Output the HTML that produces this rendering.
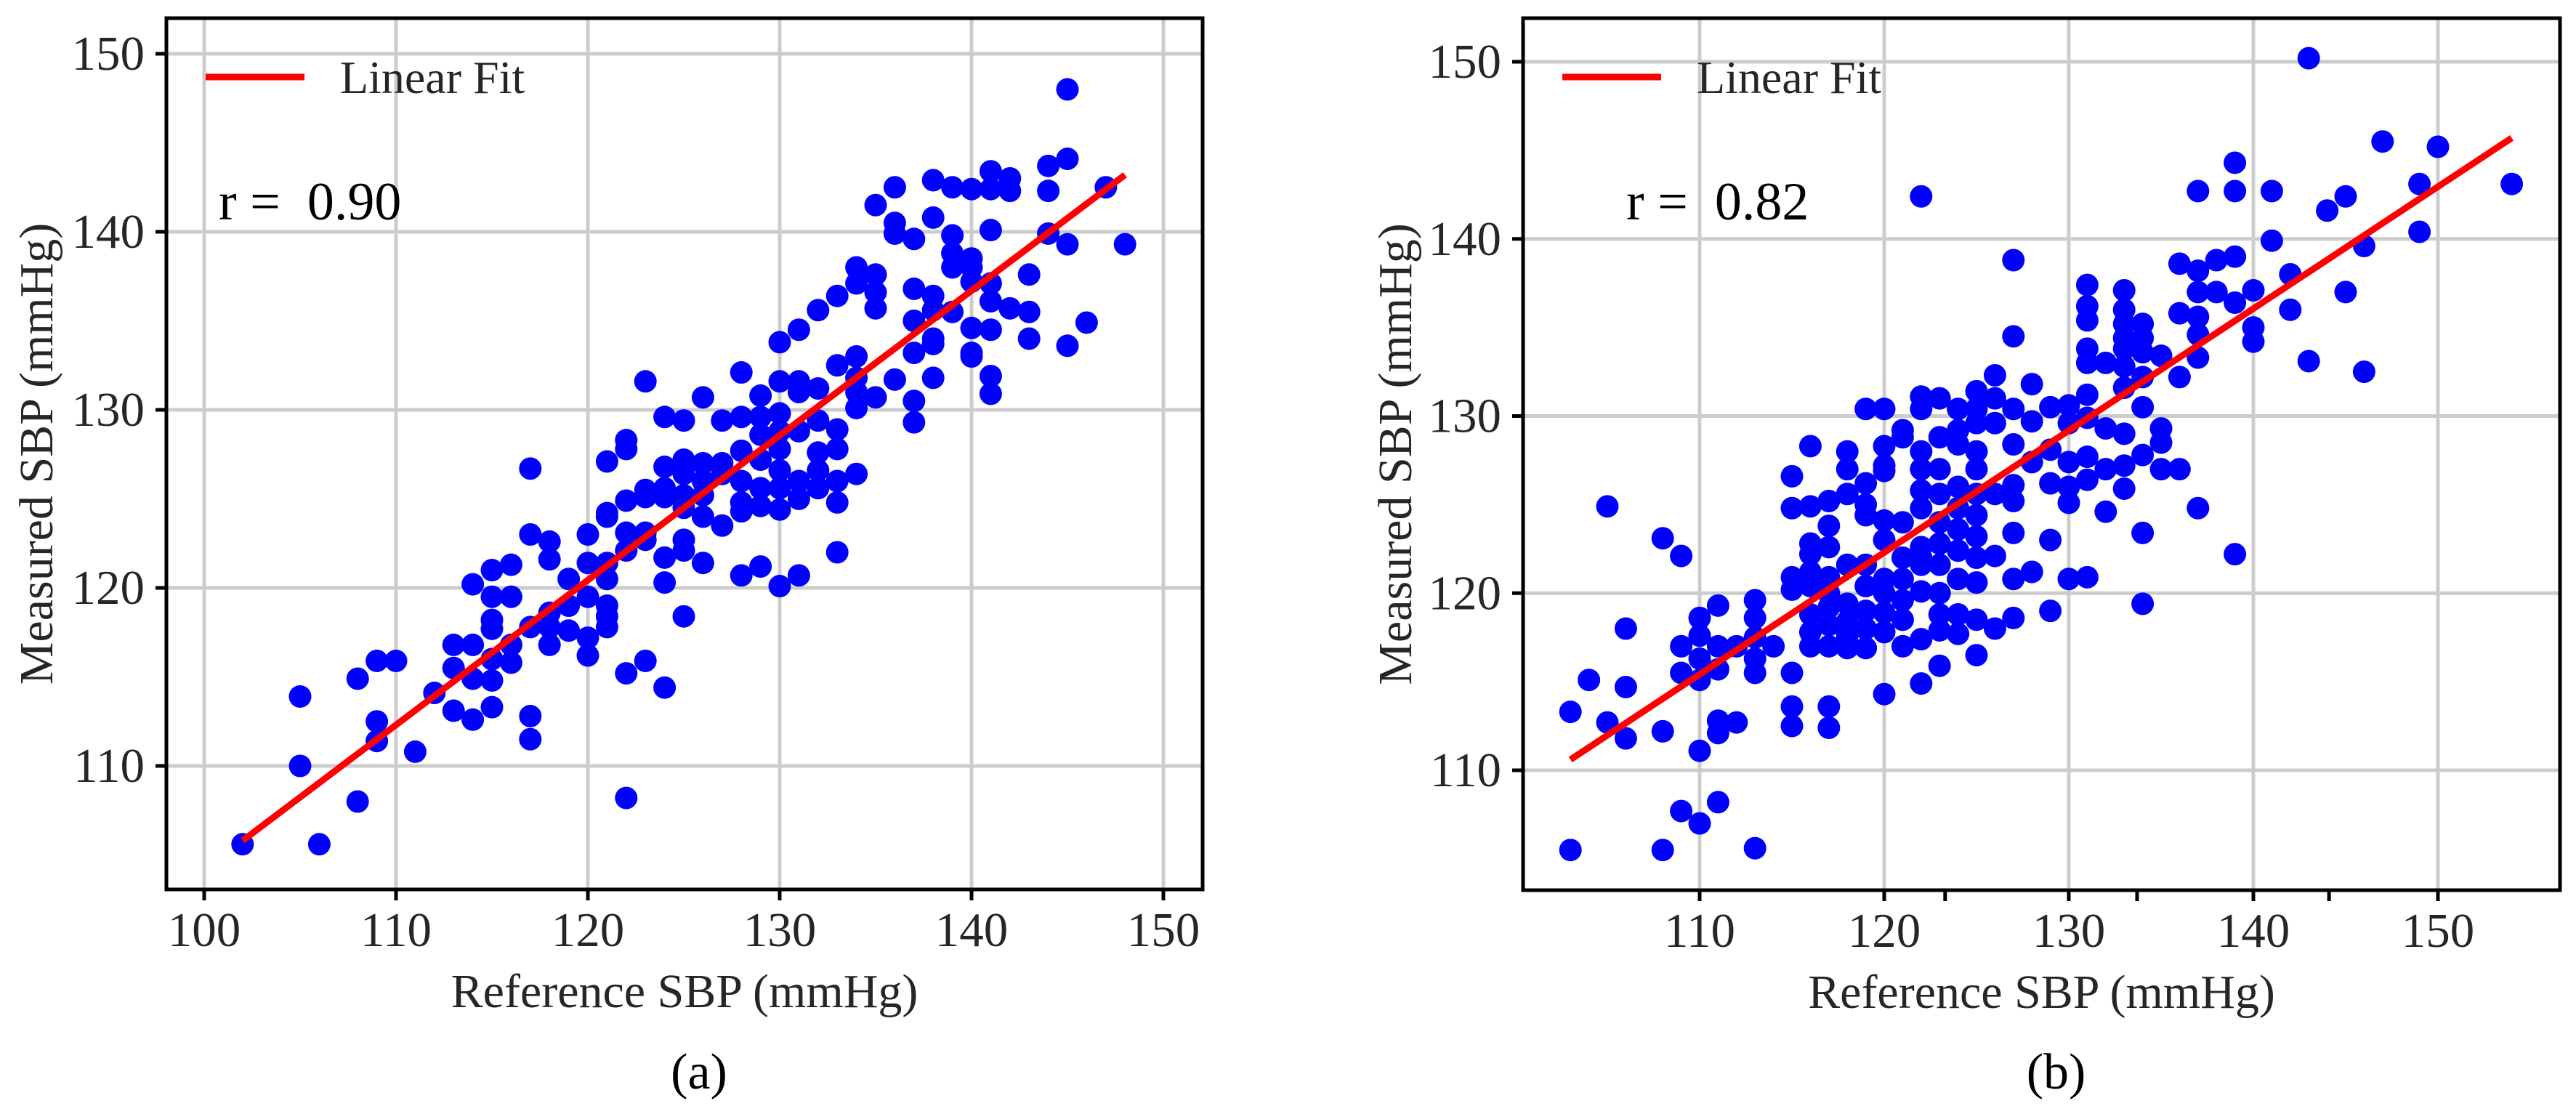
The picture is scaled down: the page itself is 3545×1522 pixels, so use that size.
<!DOCTYPE html>
<html><head><meta charset="utf-8"><style>
html,body{margin:0;padding:0;background:#fff;}
svg{display:block;font-family:"Liberation Serif",serif;}
</style></head><body>
<svg id="fig" width="3545" height="1522" viewBox="0 0 3545 1522" xmlns="http://www.w3.org/2000/svg"></svg>
<script>
// ---- Panel (a) data ----
const aRefX=[102,105,105,106,108,108,109,109,109,110,111,112,113,113,113,114,114,114,114,
115,115,115,115,115,115,115,116,116,116,116,117,117,117,117,117,118,118,118,118,118,119,119,119,
120,120,120,120,120,121,121,121,121,121,121,121,121,122,122,122,122,122,122,122,123,123,123,123,123,123,
124,124,124,124,124,124,124,125,125,125,125,125,125,125,125,126,126,126,126,126,126,127,127,127,127,
128,128,128,128,128,128,128,129,129,129,129,129,129,129,130,130,130,130,130,130,130,130,130,
131,131,131,131,131,131,131,132,132,132,132,132,132,133,133,133,133,133,133,133,134,134,134,134,134,134,134,
135,135,135,135,135,136,136,136,136,137,137,137,137,137,137,138,138,138,138,138,138,138,139,139,139,139,139,
140,140,140,140,140,140,140,141,141,141,141,141,141,141,141,142,142,142,143,143,143,144,144,144,145,145,145,145,146,147,148];
const aMeasY=[105.6,113.9,110,105.6,114.9,108,115.9,112.5,111.4,115.9,110.8,114.1,116.8,115.5,113.1,120.2,116.8,114.9,112.6,
121,119.5,118.2,117.7,116,114.8,113.3,121.3,119.5,116.8,115.8,126.7,123,117.8,112.8,111.5,122.6,121.6,118.6,116.8,117.8,120.5,119,117.6,
123,121.4,119.5,117.2,116.2,127.1,124.2,124,121.4,120.5,119,118.4,117.8,128.3,127.8,124.9,123.1,122.1,115.2,108.2,131.6,125.5,125.1,123.1,122.7,115.9,
129.6,126.8,125.6,125.1,121.7,120.3,114.4,129.4,127.2,126.4,125.2,124.5,122.7,122.1,118.4,130.7,127,126,125.2,124,121.4,129.4,127,126.4,123.5,
132.1,129.6,127.7,126,124.8,124.3,120.7,130.8,129.6,128.6,127.2,125.6,124.6,121.2,133.8,131.6,129.8,128.8,127.8,126.6,125.6,124.4,120.1,
134.5,131.6,131,128.8,126,125,120.7,135.6,131.2,129.4,127.6,126.6,125.6,136.4,132.5,128.9,127.8,126,124.8,122,138,137.1,133,131.8,131,130.1,126.4,
141.5,137.6,136.6,135.7,130.7,142.5,140.5,139.9,131.7,139.6,136.8,135,133.2,130.5,129.3,142.9,140.8,136.4,135.6,134,133.7,131.8,142.5,139.8,138.8,138,135.5,
142.4,138.5,138,137.2,134.6,133.2,133,143.4,142.4,140.1,137.1,136.1,134.5,131.9,130.9,143,142.3,135.7,137.6,135.5,134,143.7,142.3,139.9,148,144.1,139.3,133.6,134.9,142.5,139.3];
const aFitX=[102,148];
const aFitY=[105.8,143.2];
const aXTicks=[100,110,120,130,140,150];
const aYTicks=[110,120,130,140,150];

// ---- Panel (b) data ----
const bRefX=[103,103,104,105,105,106,106,106,108,108,108,109,109,109,109,110,110,110,110,110,110,
111,111,111,111,111,111,112,112,113,113,113,113,113,113,114,115,115,115,115,115,115,115,
116,116,116,116,116,116,116,116,116,117,117,117,117,117,117,117,117,117,117,118,118,118,118,118,118,118,118,
119,119,119,119,119,119,119,119,119,120,120,120,120,120,120,120,120,120,120,120,121,121,121,121,121,121,121,121,
122,122,122,122,122,122,122,122,122,122,122,122,122,123,123,123,123,123,123,123,123,123,123,123,
124,124,124,124,124,124,124,124,124,124,125,125,125,125,125,125,125,125,125,125,125,125,126,126,126,126,126,126,
127,127,127,127,127,127,127,127,127,128,128,128,128,129,129,129,129,129,130,130,130,130,130,130,
131,131,131,131,131,131,131,131,131,131,132,132,132,132,133,133,133,133,133,133,133,133,133,133,
134,134,134,134,134,134,134,134,135,135,135,135,136,136,136,136,137,137,137,137,137,137,137,138,138,
139,139,139,139,139,140,140,140,141,141,142,142,143,143,144,145,145,146,146,147,149,149,150,154];
const bMeasY=[113.3,105.5,115.1,124.9,112.7,118,114.7,111.8,123.1,112.2,105.5,122.1,117,115.5,107.7,118.6,117.6,116.3,115.1,111.1,107,
119.3,117,115.7,112.8,112.1,108.2,117,112.7,119.6,118.6,117.5,116.3,115.5,105.6,117,126.6,124.8,120.9,120.2,115.5,113.6,112.5,
128.3,124.9,122.8,122.2,121.2,120.4,118.8,117.8,117,125.2,123.8,122.6,120.9,120,119.2,118.2,117,113.6,112.4,128,127,125.6,121.6,119.4,118.4,117.6,116.9,
130.4,126.2,125,124.4,121.6,120.4,119,118,116.9,130.4,128.3,127.2,126.9,124.1,123,120.8,120,118.9,117.8,114.3,129.2,128.8,124,122,120.8,119.6,118.5,117,
142.4,131.1,130.4,128,127,125.8,124.8,122.6,122,121.6,120.1,117.4,114.9,131,128.8,127,125.6,124,122.8,121.6,120,118.8,117.9,115.9,
130.4,129.2,128.4,126,124.8,123.6,122.4,120.8,118.8,117.7,131.4,130.4,129.6,128,127,125.6,124.4,123.2,122,120.6,118.5,116.5,132.3,131,129.6,125.6,122.1,118,
138.8,134.5,130.4,128.4,126.1,125.2,123.4,120.8,118.6,131.8,129.7,127.4,121.2,130.5,128.1,126.2,123,119,130.6,129.6,127.4,126,125.1,120.8,
137.4,136.2,135.4,133.8,133,131.2,129.9,127.7,126.4,120.9,133,129.3,127,124.6,137.1,136,135.2,134.4,133.8,132.8,131.6,129,127.2,125.9,
135.2,134.4,133.6,132.2,130.5,127.8,123.4,119.4,133.4,129.3,128.5,127,138.6,135.8,132.2,127,142.7,138.2,137,135.6,134.6,133.3,124.8,138.8,137,
144.3,142.7,139,136.4,122.2,137.1,135,134.2,142.7,139.9,138,136,150.2,133.1,141.6,142.4,137,139.6,132.5,145.5,143.1,140.4,145.2,143.1];
const bFitX=[103,154];
const bFitY=[110.6,145.7];
const bXTicks=[110,120,130,140,150];
const bMinorTicks=[123.3,133.7,144.1];
const bYTicks=[110,120,130,140,150];

const NS='http://www.w3.org/2000/svg';
const svg=document.getElementById('fig');
function mk(tag,attrs,parent){const e=document.createElementNS(NS,tag);for(const k in attrs)e.setAttribute(k,attrs[k]);(parent||svg).appendChild(e);return e;}

function panel(o){
  const g=mk('g',{});
  
  
  const X=v=>o.x0+(v-o.xv0)*o.xs, Y=v=>o.y0+(o.yv0-v)*o.ys;
  o.xt.forEach(v=>{const l=mk('line',{x1:X(v),x2:X(v),y1:o.T,y2:o.B,stroke:'#cccccc','stroke-width':5},g);
    });
  o.yt.forEach(v=>{const l=mk('line',{x1:o.L,x2:o.R,y1:Y(v),y2:Y(v),stroke:'#cccccc','stroke-width':5},g);
    });
  o.px.forEach((v,i)=>{const c=mk('circle',{cx:X(v),cy:Y(o.py[i]),r:15.5,fill:'#0000ff'},g);
    });
  const f=mk('line',{x1:X(o.fx[0]),y1:Y(o.fy[0]),x2:X(o.fx[1]),y2:Y(o.fy[1]),stroke:'#ff0000','stroke-width':9},g);
  
  const r=mk('rect',{x:o.L,y:o.T,width:o.R-o.L,height:o.B-o.T,fill:'none',stroke:'#000','stroke-width':5},g);
  
  o.xt.forEach(v=>{const l=mk('line',{x1:X(v),x2:X(v),y1:o.B,y2:o.B+15,stroke:'#000','stroke-width':5},g);
    
    const t=mk('text',{x:X(v),y:o.B+78,'text-anchor':'middle','font-size':67,fill:'#262626'},g);t.textContent=v;
    });
  (o.mt||[]).forEach(v=>{const l=mk('line',{x1:X(v),x2:X(v),y1:o.B,y2:o.B+15,stroke:'#000','stroke-width':5},g);
    });
  o.yt.forEach(v=>{const l=mk('line',{x1:o.L-15,x2:o.L,y1:Y(v),y2:Y(v),stroke:'#000','stroke-width':5},g);
    
    const t=mk('text',{x:o.L-30,y:Y(v)+22,'text-anchor':'end','font-size':67,fill:'#262626'},g);t.textContent=v;
    });
  const xl=mk('text',{x:(o.L+o.R)/2,y:o.B+162,'text-anchor':'middle','font-size':66,fill:'#262626'},g);xl.textContent='Reference SBP (mmHg)';
  
  const cy=(o.T+o.B)/2;
  const yl=mk('text',{x:o.ylx,y:cy,'text-anchor':'middle','font-size':66,fill:'#262626',transform:`rotate(-90 ${o.ylx} ${cy})`},g);yl.textContent='Measured SBP (mmHg)';
  
  const ll=mk('line',{x1:o.lgx,x2:o.lgx+136,y1:106,y2:106,stroke:'#ff0000','stroke-width':9},g);
  
  const lt=mk('text',{x:o.lgx+185,y:128,'font-size':64,fill:'#262626'},g);lt.textContent='Linear Fit';
  
  const rt=mk('text',{x:o.rx,y:302,'font-size':74,fill:'#000'},g);rt.textContent=o.rtext;
  
  const cap=mk('text',{x:(o.L+o.R)/2+20,y:1498,'text-anchor':'middle','font-size':70,fill:'#000'},g);cap.textContent=o.cap;
  
}

panel({name:'panel-a',L:229,R:1655,T:25,B:1224,x0:281,xv0:100,xs:26.4,y0:74,yv0:150,ys:24.5,
  xt:aXTicks,yt:aYTicks,px:aRefX,py:aMeasY,fx:aFitX,fy:aFitY,ylx:72,lgx:283,rx:301,rtext:'r = \u00a00.90',cap:'(a)'});
panel({name:'panel-b',L:2096,R:3523,T:25,B:1225,x0:2339,xv0:110,xs:25.4,y0:85,yv0:150,ys:24.375,
  xt:bXTicks,mt:bMinorTicks,yt:bYTicks,px:bRefX,py:bMeasY,fx:bFitX,fy:bFitY,ylx:1942,lgx:2150,rx:2238,rtext:'r = \u00a00.82',cap:'(b)'});
</script>
</body></html>
